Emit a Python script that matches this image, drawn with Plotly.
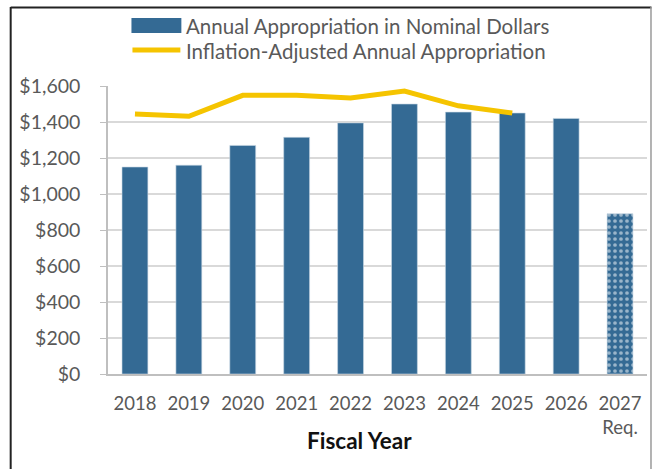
import plotly.graph_objects as go

years = ["2018", "2019", "2020", "2021", "2022", "2023", "2024", "2025", "2026", "2027<br>Req."]
nominal = [1150, 1160, 1270, 1315, 1395, 1500, 1455, 1450, 1420, 890]
line_years = ["2018", "2019", "2020", "2021", "2022", "2023", "2024", "2025"]
adjusted = [1445, 1432, 1548, 1548, 1533, 1572, 1490, 1450]
patterns = ["", "", "", "", "", "", "", "", "", "."]

BLUE = "#346A94"
GOLD = "#F5C400"
GRAY = "#595959"
FONT = "Lato"

fig = go.Figure()
fig.add_trace(go.Bar(
    x=years, y=nominal, name="Annual Appropriation in Nominal Dollars",
    marker=dict(color=BLUE, line=dict(width=0.6, color="#c9d8e4"),
                pattern=dict(shape=patterns, fgcolor="white", bgcolor=BLUE,
                             size=6, solidity=0.3)),
    showlegend=False,
))
fig.add_trace(go.Scatter(
    x=line_years, y=adjusted, mode="lines", name="Inflation-Adjusted Annual Appropriation",
    line=dict(color=GOLD, width=5), showlegend=False,
))

L, R, T, B = 107.5, 5.5, 86, 95
W, H = 653, 469
pw, ph = W - L - R, H - T - B

def px(x):
    return (x - L) / pw

def py(y):
    return (H - B - y) / ph

shapes = [
    # frame
    dict(type="line", xref="paper", yref="paper", x0=px(10), x1=px(10), y0=py(7), y1=py(480),
         line=dict(color="#222222", width=2)),
    dict(type="line", xref="paper", yref="paper", x0=px(10), x1=px(652), y0=py(7.5), y1=py(7.5),
         line=dict(color="#222222", width=2)),
    dict(type="line", xref="paper", yref="paper", x0=px(651.5), x1=px(651.5), y0=py(7), y1=py(480),
         line=dict(color="#9a9a9a", width=1.5)),
    # legend swatches
    dict(type="rect", xref="paper", yref="paper", x0=px(131), x1=px(181), y0=py(33), y1=py(18),
         fillcolor=BLUE, line=dict(width=0)),
    dict(type="line", xref="paper", yref="paper", x0=px(132), x1=px(180), y0=py(50), y1=py(50),
         line=dict(color=GOLD, width=5)),
]
annotations = [
    dict(xref="paper", yref="paper", x=px(184), y=py(25.5), xanchor="left", yanchor="middle",
         text="Annual Appropriation in Nominal Dollars", showarrow=False,
         font=dict(family=FONT, size=20.5, color=GRAY)),
    dict(xref="paper", yref="paper", x=px(184), y=py(50.5), xanchor="left", yanchor="middle",
         text="Inflation-Adjusted Annual Appropriation", showarrow=False,
         font=dict(family=FONT, size=20.5, color=GRAY)),
    dict(xref="paper", yref="paper", x=px(359), y=py(440), xanchor="center", yanchor="middle",
         text="<b>Fiscal Year</b>", showarrow=False,
         font=dict(family=FONT, size=22.5, color="#111111")),
]

fig.update_layout(
    width=W, height=H,
    margin=dict(l=L, r=R, t=T, b=B, pad=0),
    paper_bgcolor="white", plot_bgcolor="white",
    bargap=0.52,
    shapes=shapes, annotations=annotations,
    font=dict(family=FONT, color=GRAY, size=18),
    xaxis=dict(type="category", showline=True, linecolor="#bfbfbf", linewidth=1.5,
               ticks="", showgrid=False, ticklabelstandoff=12,
               tickfont=dict(family=FONT, size=18.5, color=GRAY)),
    yaxis=dict(range=[0, 1600], dtick=200, tickprefix="$", tickformat=",",
               showline=True, linecolor="#bfbfbf", linewidth=1.5,
               ticks="outside", ticklen=6, tickcolor="#bfbfbf",
               gridcolor="#d9d9d9", gridwidth=1.5, zeroline=False,
               ticklabelstandoff=16,
               tickfont=dict(family=FONT, size=19.5, color=GRAY)),
)

fig.write_html("out.html")
